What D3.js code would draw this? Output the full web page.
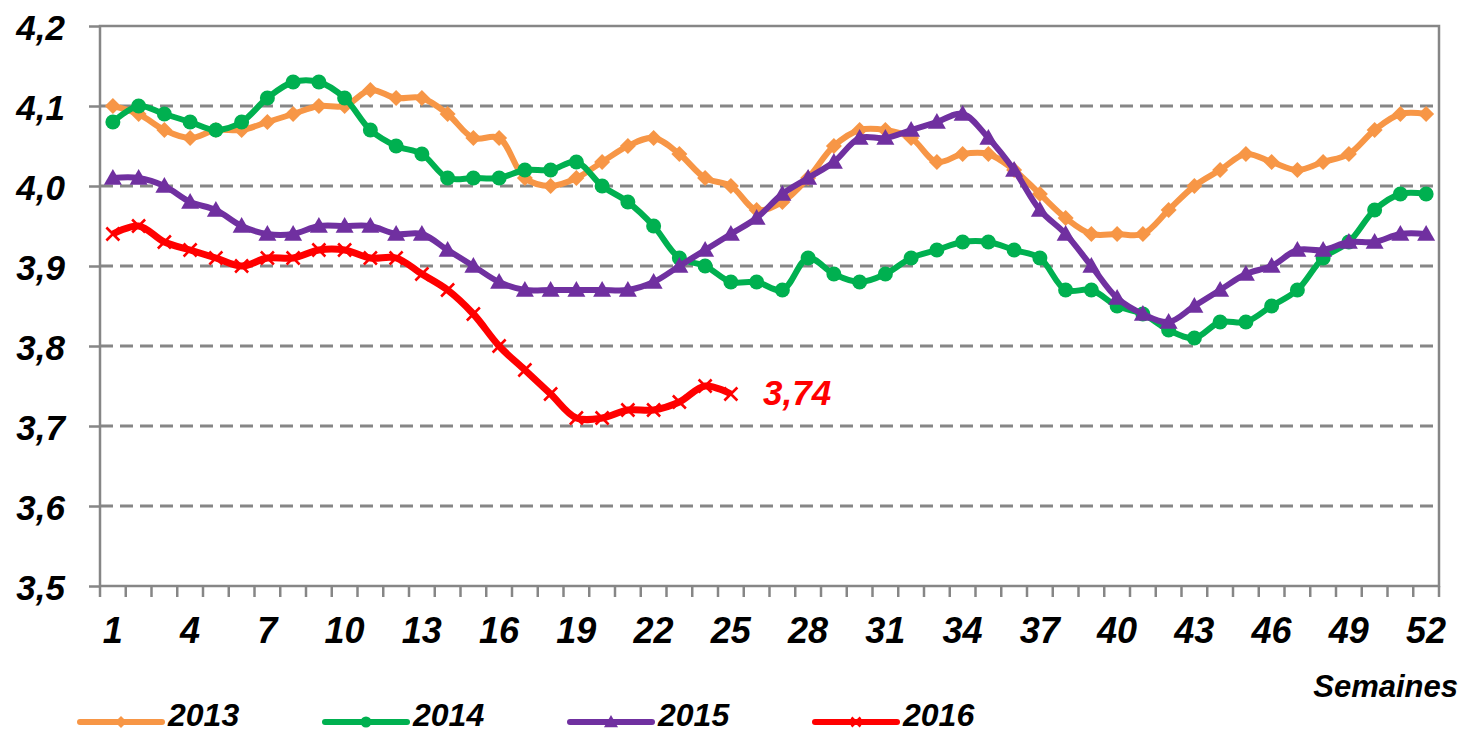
<!DOCTYPE html>
<html>
<head>
<meta charset="utf-8">
<script src="https://cdn.jsdelivr.net/npm/d3@7"></script>
<style>
  body { margin: 0; background: #fff; }
  text { font-family: Arial, "Liberation Sans", sans-serif; font-weight: bold; font-style: italic; }
</style>
</head>
<body>
<svg id="chart" width="1470" height="736"></svg>
<script>
// Weekly values, one array per year
const weeks = d3.range(1, 53);
const xTickWeeks = [1, 4, 7, 10, 13, 16, 19, 22, 25, 28, 31, 34, 37, 40, 43, 46, 49, 52];
const yTicks = [3.5, 3.6, 3.7, 3.8, 3.9, 4.0, 4.1, 4.2];

const values2013 = [4.10, 4.09, 4.07, 4.06, 4.07, 4.07, 4.08, 4.09, 4.10, 4.10,
  4.12, 4.11, 4.11, 4.09, 4.06, 4.06, 4.01, 4.00, 4.01, 4.03,
  4.05, 4.06, 4.04, 4.01, 4.00, 3.97, 3.98, 4.01, 4.05, 4.07,
  4.07, 4.06, 4.03, 4.04, 4.04, 4.02, 3.99, 3.96, 3.94, 3.94,
  3.94, 3.97, 4.00, 4.02, 4.04, 4.03, 4.02, 4.03, 4.04, 4.07,
  4.09, 4.09];
const values2014 = [4.08, 4.10, 4.09, 4.08, 4.07, 4.08, 4.11, 4.13, 4.13, 4.11,
  4.07, 4.05, 4.04, 4.01, 4.01, 4.01, 4.02, 4.02, 4.03, 4.00,
  3.98, 3.95, 3.91, 3.90, 3.88, 3.88, 3.87, 3.91, 3.89, 3.88,
  3.89, 3.91, 3.92, 3.93, 3.93, 3.92, 3.91, 3.87, 3.87, 3.85,
  3.84, 3.82, 3.81, 3.83, 3.83, 3.85, 3.87, 3.91, 3.93, 3.97,
  3.99, 3.99];
const values2015 = [4.01, 4.01, 4.00, 3.98, 3.97, 3.95, 3.94, 3.94, 3.95, 3.95,
  3.95, 3.94, 3.94, 3.92, 3.90, 3.88, 3.87, 3.87, 3.87, 3.87,
  3.87, 3.88, 3.90, 3.92, 3.94, 3.96, 3.99, 4.01, 4.03, 4.06,
  4.06, 4.07, 4.08, 4.09, 4.06, 4.02, 3.97, 3.94, 3.90, 3.86,
  3.84, 3.83, 3.85, 3.87, 3.89, 3.90, 3.92, 3.92, 3.93, 3.93,
  3.94, 3.94];
const values2016 = [3.94, 3.95, 3.93, 3.92, 3.91, 3.90, 3.91, 3.91, 3.92, 3.92,
  3.91, 3.91, 3.89, 3.87, 3.84, 3.80, 3.77, 3.74, 3.71, 3.71,
  3.72, 3.72, 3.73, 3.75, 3.74];
const lastLabel = "3,74";

const series = [
  { name: "2013", values: values2013, color: "#F79646", marker: "diamond", width: 6 },
  { name: "2014", values: values2014, color: "#00B050", marker: "circle", width: 6 },
  { name: "2015", values: values2015, color: "#7030A0", marker: "triangle", width: 6 },
  { name: "2016", values: values2016, color: "#FF0000", marker: "cross", width: 7 }
];

const svg = d3.select("#chart");
const plot = { left: 100, right: 1439, top: 26, bottom: 586 };
const gridColor = "#868686";

const x = d3.scaleBand().domain(weeks).range([plot.left, plot.right]);
const xc = w => x(w) + x.bandwidth() / 2;
const y = d3.scaleLinear().domain([3.5, 4.2]).range([plot.bottom, plot.top]);
const fmt = d => d.toFixed(1).replace(".", ",");

// Dashed gridlines
svg.append("g")
  .selectAll("line")
  .data(yTicks.filter(t => t > 3.5 && t < 4.2))
  .join("line")
  .attr("x1", plot.left).attr("x2", plot.right)
  .attr("y1", d => y(d)).attr("y2", d => y(d))
  .attr("stroke", gridColor)
  .attr("stroke-width", 3)
  .attr("stroke-dasharray", "13,7");

// Plot frame
svg.append("rect")
  .attr("x", plot.left).attr("y", plot.top)
  .attr("width", plot.right - plot.left).attr("height", plot.bottom - plot.top)
  .attr("fill", "none")
  .attr("stroke", gridColor)
  .attr("stroke-width", 2.5);

// Y axis
const yAxis = svg.append("g")
  .attr("transform", `translate(${plot.left},0)`)
  .call(d3.axisLeft(y).tickValues(yTicks).tickFormat(fmt).tickSize(11).tickPadding(24));
yAxis.select(".domain").remove();
yAxis.selectAll(".tick line").attr("stroke", gridColor).attr("stroke-width", 2.5);
yAxis.selectAll(".tick text")
  .attr("fill", "#000")
  .style("font-size", "35px")
  .attr("dy", "0.38em");

// X axis tick marks at category boundaries
const boundaries = weeks.map(w => x(w)).concat([x.range()[1]]);
svg.append("g")
  .selectAll("line")
  .data(boundaries)
  .join("line")
  .attr("x1", d => d).attr("x2", d => d)
  .attr("y1", plot.bottom).attr("y2", plot.bottom + 11)
  .attr("stroke", gridColor)
  .attr("stroke-width", 2.5);

svg.append("g")
  .selectAll("text")
  .data(xTickWeeks)
  .join("text")
  .attr("x", d => xc(d))
  .attr("y", 643)
  .attr("text-anchor", "middle")
  .style("font-size", "36px")
  .text(d => d);

svg.append("text")
  .attr("x", 1458).attr("y", 697)
  .attr("text-anchor", "end")
  .style("font-size", "31px")
  .text("Semaines");

// Markers
function drawMarker(sel, type, color, s) {
  if (type === "diamond") {
    sel.append("path").attr("d", `M0,${-s}L${s},0L0,${s}L${-s},0Z`).attr("fill", color);
  } else if (type === "circle") {
    sel.append("circle").attr("r", s).attr("fill", color);
  } else if (type === "triangle") {
    sel.append("path").attr("d", `M0,${-s}L${s},${s * 0.75}L${-s},${s * 0.75}Z`).attr("fill", color);
  } else {
    sel.append("path").attr("d", `M${-s},${-s}L${s},${s}M${-s},${s}L${s},${-s}`)
      .attr("stroke", color).attr("stroke-width", 2.5).attr("fill", "none");
  }
}

const line = d3.line()
  .x((d, i) => xc(weeks[i]))
  .y(d => y(d))
  .curve(d3.curveCatmullRom);

const markerSize = { diamond: 8, circle: 7.5, triangle: 9, cross: 6.5 };

series.forEach(s => {
  const g = svg.append("g");
  g.append("path")
    .attr("d", line(s.values))
    .attr("fill", "none")
    .attr("stroke", s.color)
    .attr("stroke-width", s.width)
    .attr("stroke-linejoin", "round");
  g.selectAll("g.pt")
    .data(s.values)
    .join("g")
    .attr("class", "pt")
    .attr("transform", (d, i) => `translate(${xc(weeks[i])},${y(d)})`)
    .each(function () { drawMarker(d3.select(this), s.marker, s.color, markerSize[s.marker]); });
});

// Label for the latest 2016 value
svg.append("text")
  .attr("x", 763).attr("y", 405)
  .attr("fill", "#FF0000")
  .style("font-size", "35px")
  .text(lastLabel);

// Legend
const legendX = [80, 325, 570, 815];
const legendY = 722;
series.forEach((s, i) => {
  const g = svg.append("g").attr("transform", `translate(${legendX[i]},${legendY})`);
  g.append("line")
    .attr("x1", 0).attr("x2", 82)
    .attr("stroke", s.color)
    .attr("stroke-width", 6)
    .attr("stroke-linecap", "round");
  g.append("g").attr("transform", "translate(41,0)")
    .call(sel => drawMarker(sel, s.marker, s.color, markerSize[s.marker] - 2));
  g.append("text")
    .attr("x", 88).attr("y", 4)
    .style("font-size", "32px")
    .text(s.name);
});
</script>
</body>
</html>
